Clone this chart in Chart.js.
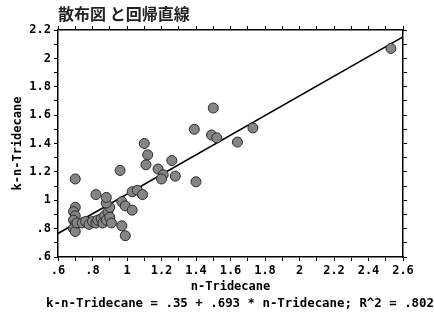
<!DOCTYPE html>
<html>
<head>
<meta charset="utf-8">
<script src="https://cdn.jsdelivr.net/npm/chart.js@4/dist/chart.umd.min.js"></script>
<style>
html, body { margin: 0; padding: 0; background: #fff; }
</style>
</head>
<body>
<canvas id="chart" width="434" height="322"></canvas>
<script>
// values
const nTridecane = [
  0.70, 0.70, 0.69, 0.70, 0.69, 0.70, 0.69, 0.70, 0.71, 0.74,
  0.76, 0.78, 0.80, 0.82, 0.83, 0.85, 0.86, 0.87, 0.88, 0.89,
  0.90, 0.90, 0.88, 0.82, 0.88, 0.91, 0.97, 0.99, 0.96, 0.97,
  0.99, 1.03, 1.03, 1.06, 1.09, 1.10, 1.12, 1.11, 1.18, 1.21,
  1.20, 1.26, 1.28, 1.40, 1.39, 1.50, 1.49, 1.52, 1.64, 1.73,
  2.53
];
const kNTridecane = [
  1.15, 0.95, 0.92, 0.89, 0.86, 0.83, 0.80, 0.78, 0.84, 0.84,
  0.85, 0.83, 0.85, 0.84, 0.86, 0.87, 0.84, 0.89, 0.86, 0.92,
  0.88, 0.95, 0.98, 1.04, 1.02, 0.84, 0.82, 0.75, 1.21, 0.99,
  0.96, 0.93, 1.06, 1.07, 1.04, 1.40, 1.32, 1.25, 1.22, 1.18,
  1.15, 1.28, 1.17, 1.13, 1.50, 1.65, 1.46, 1.44, 1.41, 1.51,
  2.07
];
const intercept = 0.35;
const slope = 0.693;
const rSquared = '.802';
const xRange = [0.6, 2.6];
const yRange = [0.6, 2.2];

const monoFont = '"DejaVu Sans Mono", "Liberation Mono", monospace';

const points = nTridecane.map((x, i) => ({ x: x, y: kNTridecane[i] }));
const fitLine = xRange.map(x => ({ x: x, y: intercept + slope * x }));

function fmt(v) {
  const tenth = Math.round(v * 10);
  if (tenth % 2 !== 0) return '';
  let s = (tenth / 10).toFixed(1);
  if (s.endsWith('.0')) s = s.slice(0, -2);
  if (s.startsWith('0.')) s = s.slice(1);
  return s;
}

function axis(pos, range, opts) {
  return Object.assign({
    type: 'linear',
    position: pos,
    min: range[0],
    max: range[1],
    border: { display: true, color: '#000', width: 1.5 },
    grid: { drawOnChartArea: false, color: '#000', tickColor: '#000', tickLength: 4, tickWidth: 1 },
    ticks: {
      stepSize: 0.1,
      autoSkip: false,
      maxRotation: 0,
      padding: 3,
      color: '#000',
      font: { family: monoFont, size: 12, weight: 'bold' },
      callback: fmt
    }
  }, opts);
}

new Chart(document.getElementById('chart'), {
  type: 'scatter',
  data: {
    datasets: [
      {
        label: 'k-n-Tridecane',
        data: points,
        pointRadius: 5,
        pointBackgroundColor: '#858585',
        pointBorderColor: '#2a2a2a',
        pointBorderWidth: 1
      },
      {
        type: 'line',
        label: 'fit',
        data: fitLine,
        borderColor: '#000',
        borderWidth: 1.5,
        pointRadius: 0,
        fill: false
      }
    ]
  },
  options: {
    responsive: false,
    animation: false,
    devicePixelRatio: 1,
    layout: { padding: 0 },
    plugins: {
      legend: { display: false },
      tooltip: { enabled: false },
      title: {
        display: true,
        fullSize: false,
        align: 'start',
        text: '散布図 と回帰直線',
        color: '#222',
        font: { family: '"Noto Sans CJK JP", sans-serif', size: 16, weight: 'bold', lineHeight: '18px' },
        padding: { top: 5, bottom: 0 }
      },
      subtitle: {
        display: true,
        fullSize: true,
        align: 'end',
        position: 'bottom',
        text: 'k-n-Tridecane = .35 + .693 * n-Tridecane; R^2 = ' + rSquared,
        color: '#000',
        font: { family: monoFont, size: 12.4, weight: 'bold', lineHeight: '14px' },
        padding: { top: 0, bottom: 11 }
      }
    },
    scales: {
      x: axis('bottom', xRange, {
        title: {
          display: true, text: 'n-Tridecane', color: '#000',
          font: { family: monoFont, size: 12, weight: 'bold', lineHeight: '14px' },
          padding: { top: 0, bottom: 3 }
        },
        afterFit: s => { s.height = 40; }
      }),
      x2: axis('top', xRange, {
        ticks: { stepSize: 0.1, display: false },
        afterFit: s => { s.height = 7; }
      }),
      y: axis('left', yRange, {
        title: {
          display: true, text: 'k-n-Tridecane', color: '#000',
          font: { family: monoFont, size: 12, weight: 'bold', lineHeight: '14px' },
          padding: { top: 11, bottom: 0 }
        },
        afterFit: s => { s.width = 58; }
      }),
      y2: axis('right', yRange, {
        ticks: { stepSize: 0.1, display: false },
        afterFit: s => { s.width = 31; }
      })
    }
  }
});
</script>
</body>
</html>
